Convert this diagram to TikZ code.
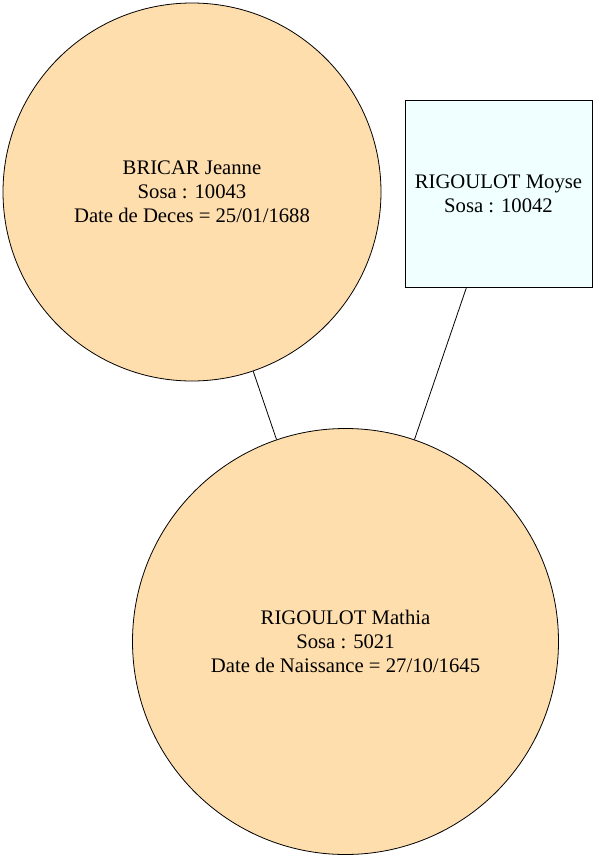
\documentclass[tikz,border=0pt]{standalone}
\usepackage{fontspec}
\setmainfont{Liberation Serif}
\definecolor{personfill}{HTML}{FFDEAD}
\definecolor{malefill}{HTML}{F0FFFF}
\begin{document}
\begin{tikzpicture}[x=1pt,y=-1pt,
  lbl/.style={align=center,font=\fontsize{20.7}{24}\selectfont,text=black},
  circ/.style={lbl,circle,draw=black,fill=personfill,inner sep=0pt,line width=0.8pt},
  box/.style={lbl,rectangle,draw=black,fill=malefill,inner sep=0pt,line width=0.8pt},
  link/.style={draw=black,line width=0.8pt}]
\useasboundingbox (0,0) rectangle (598,860);
\node[circ,minimum size=378pt] (jeanne) at (192,192) {BRICAR Jeanne\\Sosa : 10043\\Date de Deces = 25/01/1688};
\node[box,minimum width=187pt,minimum height=187pt] (moyse) at (498.5,193.5) {RIGOULOT Moyse\\Sosa : 10042};
\node[circ,minimum size=426pt] (mathia) at (345.5,641.5) {RIGOULOT Mathia\\Sosa : 5021\\Date de Naissance = 27/10/1645};
\draw[link] (jeanne) -- (mathia);
\draw[link] (moyse) -- (mathia);
\end{tikzpicture}
\end{document}
